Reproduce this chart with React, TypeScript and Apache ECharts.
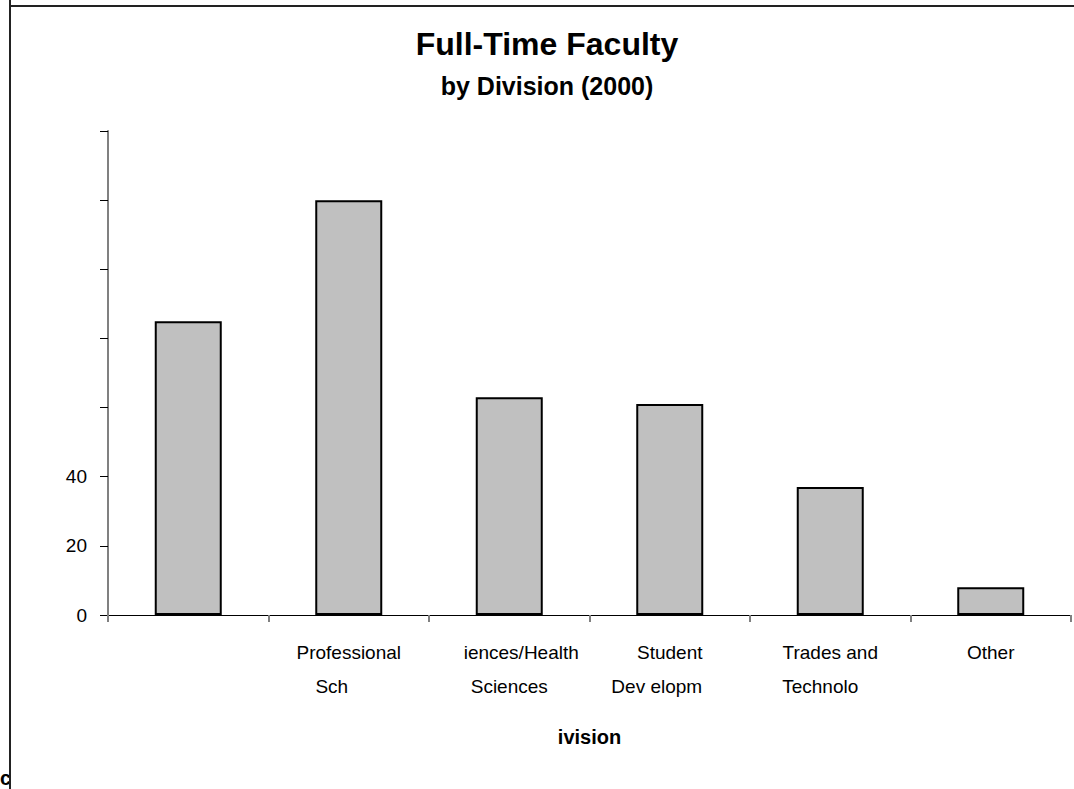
import React, { useEffect, useRef } from "react";
import * as echarts from "echarts";

const categories = [
  "",
  "Professional\nSch",
  "iences/Health\nSciences",
  "Student\nDev elopm",
  "Trades and\nTechnolo",
  "Other",
];
const facultyCounts = [85, 120, 63, 61, 37, 8];
const yTickLabels = ["0", "20", "40"];
const titleText = "Full-Time Faculty";
const subtitleText = "by Division (2000)";
const xAxisName = "ivision";
const cornerText = "ce";

const SANS = '"Liberation Sans", Arial, sans-serif';
const LABEL_SIZE = 19;

// horizontal offsets (px) per label line, to mimic clipped Excel labels
const lineShift: Record<string, number> = {
  Sch: -17,
  "iences/Health": 12,
  "Dev elopm": -13,
  Technolo: -10,
};

export default function App() {
  const ref = useRef<HTMLDivElement>(null);
  useEffect(() => {
    if (!ref.current) return;
    const chart = echarts.init(ref.current, null, { renderer: "svg" });
    const rich: Record<string, any> = {
      n: { fontFamily: SANS, fontSize: LABEL_SIZE, color: "#000", lineHeight: 34 },
    };
    let k = 0;
    const keyFor: Record<string, string> = {};
    Object.keys(lineShift).forEach((s) => {
      const sh = lineShift[s];
      const key = "s" + k++;
      keyFor[s] = key;
      rich[key] = {
        fontFamily: SANS,
        fontSize: LABEL_SIZE,
        color: "#000",
        lineHeight: 34,
        padding: sh > 0 ? [0, 0, 0, 2 * sh] : [0, -2 * sh, 0, 0],
      };
    });
    chart.setOption({
      animation: false,
      backgroundColor: "#fff",
      grid: { left: 108, right: 3, top: 131, bottom: 174, containLabel: false },
      xAxis: {
        type: "category",
        data: categories,
        name: xAxisName,
        nameLocation: "middle",
        nameGap: 112,
        nameTextStyle: { fontFamily: SANS, fontSize: 20, fontWeight: "bold", color: "#000" },
        axisLine: { lineStyle: { color: "#000", width: 1 } },
        axisTick: { show: true, length: 7, lineStyle: { color: "#808080", width: 2 } },
        axisLabel: {
          interval: 0,
          margin: 20,
          formatter: (v: string) =>
            v
              .split("\n")
              .map((line) => `{${keyFor[line] || "n"}|${line}}`)
              .join("\n"),
          rich,
        },
      },
      yAxis: {
        type: "value",
        min: 0,
        max: 140,
        interval: 20,
        splitLine: { show: false },
        axisLine: { show: true, lineStyle: { color: "#808080", width: 2 } },
        axisTick: { show: true, length: 8, lineStyle: { color: "#000", width: 1 } },
        axisLabel: {
          margin: 21,
          fontFamily: SANS,
          fontSize: 19,
          color: "#000",
          formatter: (v: number) => (yTickLabels.includes(String(v)) ? String(v) : ""),
        },
      },
      series: [
        {
          type: "bar",
          data: facultyCounts,
          barWidth: 67,
          itemStyle: { color: "#C0C0C0", borderColor: "#000", borderWidth: 2 },
        },
      ],
      graphic: [
        {
          type: "text",
          x: 547,
          y: 44,
          style: {
            text: titleText,
            fontFamily: SANS,
            fontSize: 32,
            fontWeight: "bold",
            fill: "#000",
            align: "center",
            verticalAlign: "middle",
          },
        },
        {
          type: "text",
          x: 547,
          y: 86,
          style: {
            text: subtitleText,
            fontFamily: SANS,
            fontSize: 25,
            fontWeight: "bold",
            fill: "#000",
            align: "center",
            verticalAlign: "middle",
          },
        },
        {
          type: "text",
          x: 0,
          y: 778,
          z: 1,
          style: {
            text: cornerText,
            fontFamily: SANS,
            fontSize: 20,
            fontWeight: "bold",
            fill: "#000",
            align: "left",
            verticalAlign: "middle",
          },
        },
        {
          type: "rect",
          z: 2,
          shape: { x: 11, y: 755, width: 30, height: 34 },
          style: { fill: "#fff" },
        },
        {
          type: "line",
          z: 3,
          shape: { x1: 10, y1: 0, x2: 10, y2: 789 },
          style: { stroke: "#222", lineWidth: 2 },
        },
        {
          type: "line",
          z: 3,
          shape: { x1: 10, y1: 6, x2: 1074, y2: 6 },
          style: { stroke: "#222", lineWidth: 2 },
        },
      ],
    });
    return () => chart.dispose();
  }, []);
  return (
    <div
      ref={ref}
      style={{ position: "absolute", left: 0, top: 0, width: 1074, height: 789 }}
    />
  );
}
